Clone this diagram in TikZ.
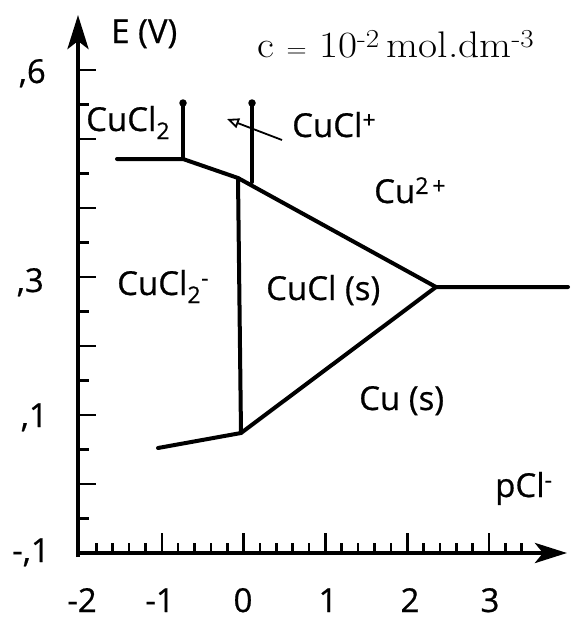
\documentclass[tikz,border=0pt]{standalone}
\usepackage{fontspec}
\newfontfamily\lab{Open Sans}[FakeBold=0.6]
\usetikzlibrary{arrows.meta}
\begin{document}
\begin{tikzpicture}[x=1pt,y=-1pt,
  lbl/.style={font=\lab\fontsize{33}{36}\selectfont, inner sep=0pt},
  frm/.style={font=\fontsize{37}{40}\selectfont, inner sep=0pt},
  axis/.style={line width=4.5pt},
  phase/.style={line width=4pt, line cap=round, line join=round},
  tk/.style={line width=2.6pt},
  dotend/.style={circle, fill=black, inner sep=0pt, minimum size=7.5pt}]
\useasboundingbox (0,0) rectangle (572,621);
% axes
\coordinate (O) at (78,553);
\coordinate (Ob) at (78,557);
\coordinate (Ol) at (76,553);
\coordinate (ytop) at (78,15);
\coordinate (xend) at (567,553);
\draw[axis,-{Stealth[length=34pt,width=21pt,inset=8pt]}] (Ob) -- (ytop);
\draw[axis,-{Stealth[length=32pt,width=20pt,inset=8pt]}] (Ol) -- (xend);
% y ticks
\foreach \k in {1,...,14}{
  \pgfmathsetmacro{\yy}{553-\k*34.5}
  \pgfmathsetmacro{\ll}{ifthenelse(mod(\k,2)==0,18,11)}
  \draw[tk] (78,\yy) -- ++(\ll,0);
}
% x ticks
\foreach \j in {1,...,27}{
  \pgfmathsetmacro{\xx}{80+\j*16.36}
  \pgfmathsetmacro{\ll}{ifthenelse(mod(\j,5)==0,20,10)}
  \draw[tk] (\xx,553) -- ++(0,-\ll);
}
% tick labels
\node[lbl,anchor=base east] (y6) at (46,83) {,6};
\node[lbl,anchor=base east] (y3) at (44,292) {,3};
\node[lbl,anchor=base east] (y1) at (48,427) {,1};
\node[lbl,anchor=base east] (ym1) at (50,562) {-,1};
\node[lbl,anchor=base] (xm2) at (82,612) {-2};
\node[lbl,anchor=base] (xm1) at (160,612) {-1};
\node[lbl,anchor=base] (x0) at (243,612) {0};
\node[lbl,anchor=base] (x1) at (328,612) {1};
\node[lbl,anchor=base] (x2) at (410,612) {2};
\node[lbl,anchor=base] (x3) at (490,612) {3};
\node[lbl,anchor=base west] (Elab) at (111,43) {E (V)};
\node[lbl,anchor=base west] (plab) at (495,497) {pCl\textsuperscript{-}};
\node[frm,anchor=base west] (conc) at (257,57) {\scalebox{1.12}[1]{c $=$ 10\textsuperscript{-2}\,mol.dm\textsuperscript{-3}}};
% species labels
\node[lbl,anchor=base west] (s1) at (86,131) {CuCl\textsubscript{2}};
\node[lbl,anchor=base west] (s2) at (292,137) {CuCl\textsuperscript{+}};
\node[lbl,anchor=base west] (s3) at (374,203) {Cu\textsuperscript{2\,+}};
\node[lbl,anchor=base west] (s4) at (117,295) {CuCl\textsubscript{2}\textsuperscript{-}};
\node[lbl,anchor=base west] (s5) at (266,300) {CuCl (s)};
\node[lbl,anchor=base west] (s6) at (359,410) {Cu (s)};
% phase boundaries
\coordinate (A) at (117,159);
\coordinate (B) at (183,159);
\coordinate (C) at (238,178);
\coordinate (T) at (436,287);
\coordinate (R) at (568,287);
\coordinate (E) at (241,433);
\coordinate (F) at (158,448);
\coordinate (V2b) at (252,182);
\node[dotend] (d1) at (183,103) {};
\node[dotend] (d2) at (252,103) {};
\draw[phase] (A) -- (B) -- (C) -- (T) -- (R);
\draw[phase] (C) -- (E);
\draw[phase] (F) -- (E) -- (T);
\draw[phase] (B) -- (d1.center);
\draw[phase] (V2b) -- (d2.center);
% small arrow
\coordinate (a1) at (282,140);
\coordinate (a2) at (227,119);
\draw[line width=1.8pt,-{Triangle[open,length=12pt,width=10pt]}] (a1) -- (a2);
\end{tikzpicture}
\end{document}
